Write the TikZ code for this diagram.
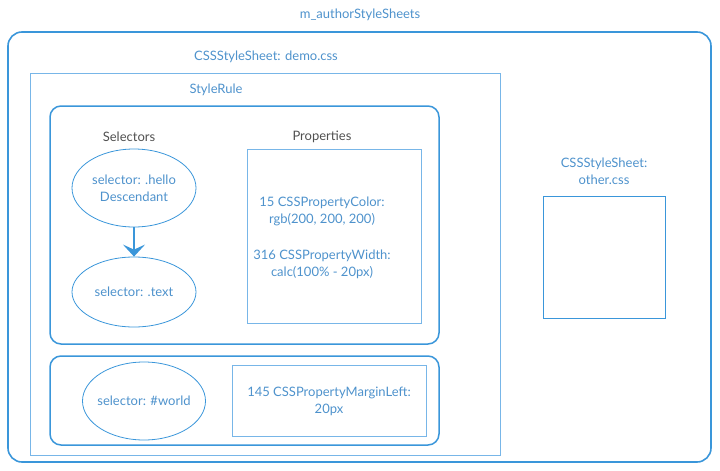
\documentclass[tikz,border=0pt]{standalone}
\usepackage{fontspec}
\setmainfont{Lato}
\usetikzlibrary{arrows.meta,shapes.geometric}
\definecolor{lineblue}{RGB}{58,150,218}
\definecolor{paleblue}{RGB}{120,182,232}
\definecolor{textblue}{RGB}{78,146,204}
\definecolor{labelgray}{RGB}{80,80,80}
\tikzset{
  lbl/.style={text=textblue,font=\fontsize{13}{17}\selectfont,align=center},
  hdr/.style={text=labelgray,font=\fontsize{13}{17}\selectfont},
  sheetbox/.style={draw=lineblue,line width=1.6pt,rounded corners=14pt},
  rulebox/.style={draw=lineblue,line width=1.5pt,rounded corners=11pt},
  plainbox/.style={draw=paleblue,line width=1pt},
  selnode/.style={lbl,draw=lineblue,line width=0.8pt,ellipse,inner ysep=0pt,inner xsep=-12pt}
}
\begin{document}
\begin{tikzpicture}[x=1pt,y=-1pt]
\useasboundingbox (0,0) rectangle (720,471);
\node[lbl] (title) at (360,15) {m\_authorStyleSheets};
\draw[sheetbox] (8,32) rectangle (711,462);
% demo.css
\node[lbl] (demo) at (266,57) {CSSStyleSheet: demo.css};
\draw[plainbox] (30,73) rectangle (500,455);
\node[lbl] (rule) at (216,90) {StyleRule};
\draw[rulebox] (50,106) rectangle (439,344);
\node[hdr] (sels) at (129,137) {Selectors};
\node[hdr] (props) at (322,137) {Properties};
\node[selnode,minimum width=124pt,minimum height=78pt] (hello) at (134,188) {selector: .hello\\Descendant};
\node[selnode,minimum width=124pt,minimum height=70pt] (text) at (134,292) {selector: .text};
\draw[lineblue,line width=2pt,-{Stealth[length=12pt,width=22pt,inset=5pt]}] (hello) -- (text);
\draw[plainbox] (247,149) rectangle (421,323);
\node[lbl] (color) at (322,211) {15 CSSPropertyColor:\\rgb(200, 200, 200)};
\node[lbl] (width) at (322,264) {316 CSSPropertyWidth:\\calc(100\% - 20px)};
% second rule
\draw[rulebox] (50,356) rectangle (439,445);
\node[selnode,minimum width=123pt,minimum height=78pt] (world) at (144,401) {selector: \#world};
\draw[plainbox] (232,365) rectangle (426,436);
\node[lbl] (margin) at (329,401) {145 CSSPropertyMarginLeft:\\20px};
% other.css
\node[lbl] (other) at (604,171) {CSSStyleSheet:\\other.css};
\draw[plainbox,draw=lineblue] (543,196) rectangle (665,318);
\end{tikzpicture}
\end{document}
